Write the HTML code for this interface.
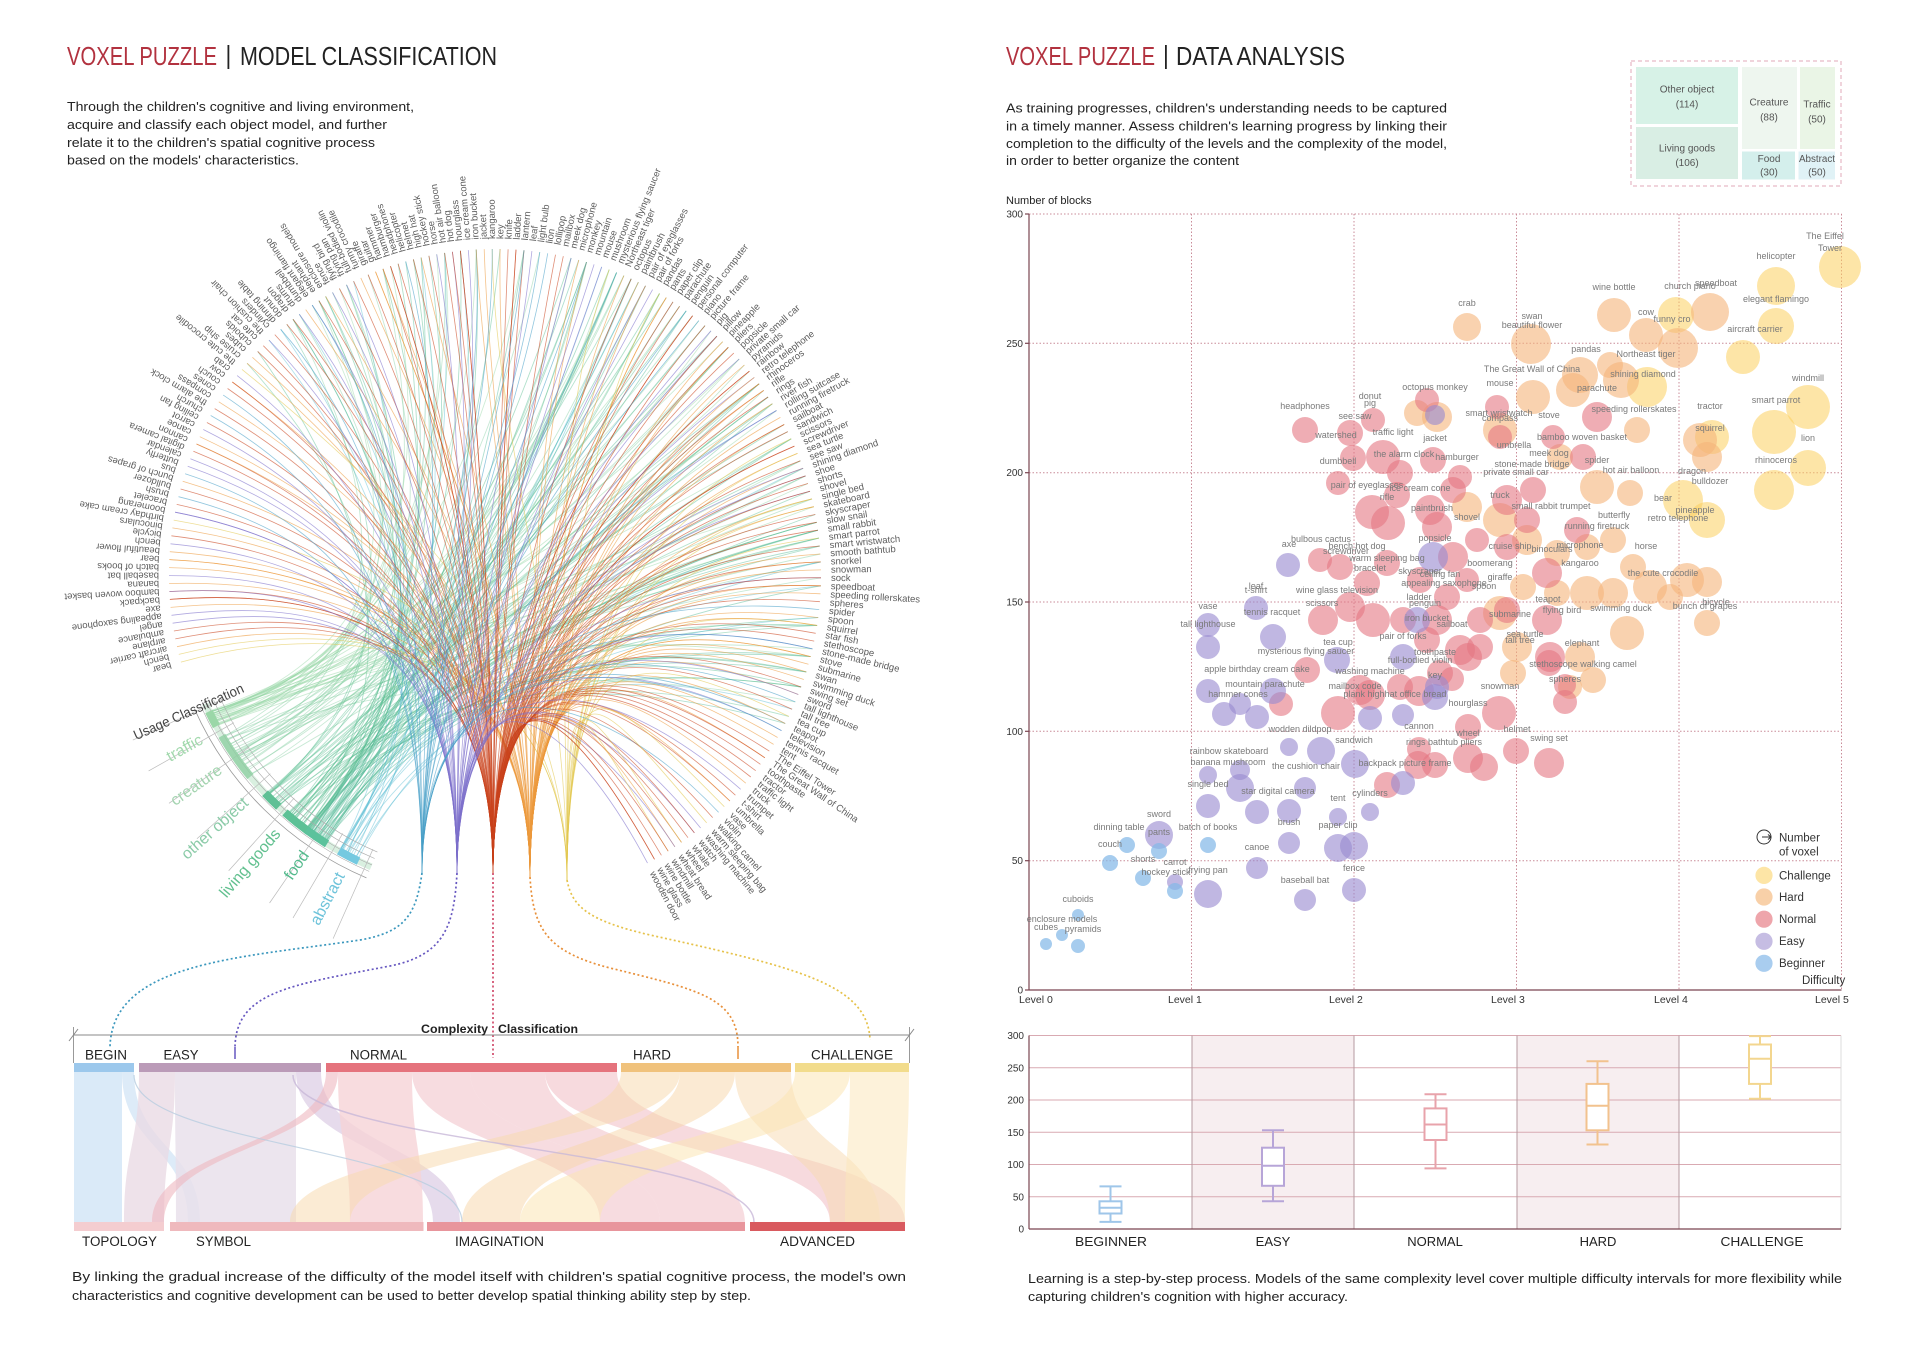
<!DOCTYPE html>
<html><head><meta charset="utf-8">
<style>
html,body{margin:0;padding:0;background:#fff;overflow:hidden;}
svg{display:block;}
text{font-family:"Liberation Sans",Arial,sans-serif;}
.sl{font-size:9px;fill:#7a7a7a;text-anchor:middle;}
.c{fill:#fbcf5e;fill-opacity:.55}
.h{fill:#f5b479;fill-opacity:.6}
.n{fill:#e47782;fill-opacity:.6}
.e{fill:#9a8bd0;fill-opacity:.62}
.b{fill:#84b9e8;fill-opacity:.72}
</style></head><body>
<svg id="s" width="1920" height="1357" viewBox="0 0 1920 1357" xmlns="http://www.w3.org/2000/svg">
<rect width="1920" height="1357" fill="#fff"/>

<!-- ================= LEFT PANEL ================= -->
<text x="67" y="65" font-size="26" fill="#b2323f" textLength="150" lengthAdjust="spacingAndGlyphs">VOXEL PUZZLE</text>
<rect x="227.5" y="45" width="1.8" height="24" fill="#222"/>
<text x="240" y="65" font-size="26" fill="#222" textLength="257" lengthAdjust="spacingAndGlyphs">MODEL CLASSIFICATION</text>

<g font-size="12.5" fill="#222">
<text x="67" y="111" textLength="347" lengthAdjust="spacingAndGlyphs">Through the children's cognitive and living environment,</text>
<text x="67" y="129" textLength="320" lengthAdjust="spacingAndGlyphs">acquire and classify each object model, and further</text>
<text x="67" y="147" textLength="308" lengthAdjust="spacingAndGlyphs">relate it to the children's spatial cognitive process</text>
<text x="67" y="164.5" textLength="232" lengthAdjust="spacingAndGlyphs">based on the models' characteristics.</text>
</g>

<!-- chords (generated) -->
<g id="chords" fill="none"></g>

<!-- radial labels -->
<g transform="translate(495,575)" font-size="9.5" fill="#5c5c5c">
<text transform="rotate(164.5)" x="336" y="3">bear</text>
<text transform="rotate(165.9)" x="336" y="3">bench</text>
<text transform="rotate(167.3)" x="336" y="3">aircraft carrier</text>
<text transform="rotate(168.7)" x="336" y="3">airplane</text>
<text transform="rotate(170.1)" x="336" y="3">ambulance</text>
<text transform="rotate(171.5)" x="336" y="3">angel</text>
<text transform="rotate(172.9)" x="336" y="3">appealing saxophone</text>
<text transform="rotate(174.3)" x="336" y="3">axe</text>
<text transform="rotate(175.7)" x="336" y="3">backpack</text>
<text transform="rotate(177.1)" x="336" y="3">bamboo woven basket</text>
<text transform="rotate(178.5)" x="336" y="3">banana</text>
<text transform="rotate(179.9)" x="336" y="3">baseball bat</text>
<text transform="rotate(181.3)" x="336" y="3">batch of books</text>
<text transform="rotate(182.7)" x="336" y="3">bear</text>
<text transform="rotate(184.1)" x="336" y="3">beautiful flower</text>
<text transform="rotate(185.5)" x="336" y="3">bench</text>
<text transform="rotate(186.9)" x="336" y="3">bicycle</text>
<text transform="rotate(188.3)" x="336" y="3">binoculars</text>
<text transform="rotate(189.7)" x="336" y="3">birthday cream cake</text>
<text transform="rotate(191.1)" x="336" y="3">boomerang</text>
<text transform="rotate(192.5)" x="336" y="3">bracelet</text>
<text transform="rotate(193.9)" x="336" y="3">brush</text>
<text transform="rotate(195.3)" x="336" y="3">bulldozer</text>
<text transform="rotate(196.7)" x="336" y="3">bunch of grapes</text>
<text transform="rotate(198.1)" x="336" y="3">bus</text>
<text transform="rotate(199.5)" x="336" y="3">butterfly</text>
<text transform="rotate(200.9)" x="336" y="3">calendar</text>
<text transform="rotate(202.3)" x="336" y="3">digital camera</text>
<text transform="rotate(203.7)" x="336" y="3">cannon</text>
<text transform="rotate(205.1)" x="336" y="3">canoe</text>
<text transform="rotate(206.5)" x="336" y="3">carrot</text>
<text transform="rotate(207.9)" x="336" y="3">ceiling fan</text>
<text transform="rotate(209.3)" x="336" y="3">church</text>
<text transform="rotate(210.7)" x="336" y="3">the alarm clock</text>
<text transform="rotate(212.1)" x="336" y="3">compass</text>
<text transform="rotate(213.5)" x="336" y="3">cones</text>
<text transform="rotate(214.9)" x="336" y="3">couch</text>
<text transform="rotate(216.3)" x="336" y="3">cow</text>
<text transform="rotate(217.7)" x="336" y="3">crab</text>
<text transform="rotate(219.1)" x="336" y="3">the cute crocodile</text>
<text transform="rotate(220.5)" x="336" y="3">cruise ship</text>
<text transform="rotate(221.9)" x="336" y="3">cubes</text>
<text transform="rotate(223.3)" x="336" y="3">cuboids</text>
<text transform="rotate(224.7)" x="336" y="3">cute cat</text>
<text transform="rotate(226.1)" x="336" y="3">the cushion chair</text>
<text transform="rotate(227.5)" x="336" y="3">cylinders</text>
<text transform="rotate(228.9)" x="336" y="3">dinning table</text>
<text transform="rotate(230.3)" x="336" y="3">donut</text>
<text transform="rotate(231.7)" x="336" y="3">dragon</text>
<text transform="rotate(233.1)" x="336" y="3">drums</text>
<text transform="rotate(234.5)" x="336" y="3">dumbbell</text>
<text transform="rotate(235.9)" x="336" y="3">elegant flamingo</text>
<text transform="rotate(237.3)" x="336" y="3">elephant</text>
<text transform="rotate(238.7)" x="336" y="3">enclosure models</text>
<text transform="rotate(240.1)" x="336" y="3">fence</text>
<text transform="rotate(241.5)" x="336" y="3">flying bird</text>
<text transform="rotate(242.9)" x="336" y="3">frying pan</text>
<text transform="rotate(244.3)" x="336" y="3">full-bodied violin</text>
<text transform="rotate(245.7)" x="336" y="3">funny crocodile</text>
<text transform="rotate(247.1)" x="336" y="3">giraffe</text>
<text transform="rotate(248.5)" x="336" y="3">guitar</text>
<text transform="rotate(249.9)" x="336" y="3">hammer</text>
<text transform="rotate(251.3)" x="336" y="3">hamburger</text>
<text transform="rotate(252.7)" x="336" y="3">headphones</text>
<text transform="rotate(254.1)" x="336" y="3">helicopter</text>
<text transform="rotate(255.5)" x="336" y="3">helmet</text>
<text transform="rotate(256.9)" x="336" y="3">high hat</text>
<text transform="rotate(258.3)" x="336" y="3">hockey stick</text>
<text transform="rotate(259.7)" x="336" y="3">horse</text>
<text transform="rotate(261.1)" x="336" y="3">hot air balloon</text>
<text transform="rotate(262.5)" x="336" y="3">hot dog</text>
<text transform="rotate(263.9)" x="336" y="3">hourglass</text>
<text transform="rotate(265.3)" x="336" y="3">ice cream cone</text>
<text transform="rotate(266.7)" x="336" y="3">iron bucket</text>
<text transform="rotate(268.1)" x="336" y="3">jacket</text>
<text transform="rotate(269.5)" x="336" y="3">kangaroo</text>
<text transform="rotate(270.9)" x="336" y="3">key</text>
<text transform="rotate(272.3)" x="336" y="3">knife</text>
<text transform="rotate(273.7)" x="336" y="3">ladder</text>
<text transform="rotate(275.1)" x="336" y="3">lantern</text>
<text transform="rotate(276.5)" x="336" y="3">leaf</text>
<text transform="rotate(277.9)" x="336" y="3">light bulb</text>
<text transform="rotate(279.3)" x="336" y="3">lion</text>
<text transform="rotate(280.7)" x="336" y="3">lollipop</text>
<text transform="rotate(282.1)" x="336" y="3">mailbox</text>
<text transform="rotate(283.5)" x="336" y="3">meek dog</text>
<text transform="rotate(284.9)" x="336" y="3">microphone</text>
<text transform="rotate(286.3)" x="336" y="3">monkey</text>
<text transform="rotate(287.7)" x="336" y="3">mountain</text>
<text transform="rotate(289.1)" x="336" y="3">mouse</text>
<text transform="rotate(290.5)" x="336" y="3">mushroom</text>
<text transform="rotate(291.9)" x="336" y="3">mysterious flying saucer</text>
<text transform="rotate(293.3)" x="336" y="3">Northeast tiger</text>
<text transform="rotate(294.7)" x="336" y="3">octopus</text>
<text transform="rotate(296.1)" x="336" y="3">paintbrush</text>
<text transform="rotate(297.5)" x="336" y="3">pair of eyeglasses</text>
<text transform="rotate(298.9)" x="336" y="3">pair of forks</text>
<text transform="rotate(300.3)" x="336" y="3">pandas</text>
<text transform="rotate(301.7)" x="336" y="3">pants</text>
<text transform="rotate(303.1)" x="336" y="3">paper clip</text>
<text transform="rotate(304.5)" x="336" y="3">parachute</text>
<text transform="rotate(305.9)" x="336" y="3">penguin</text>
<text transform="rotate(307.3)" x="336" y="3">personal computer</text>
<text transform="rotate(308.7)" x="336" y="3">piano</text>
<text transform="rotate(310.1)" x="336" y="3">picture frame</text>
<text transform="rotate(311.5)" x="336" y="3">pig</text>
<text transform="rotate(312.9)" x="336" y="3">pillow</text>
<text transform="rotate(314.3)" x="336" y="3">pineapple</text>
<text transform="rotate(315.7)" x="336" y="3">pliers</text>
<text transform="rotate(317.1)" x="336" y="3">popsicle</text>
<text transform="rotate(318.5)" x="336" y="3">private small car</text>
<text transform="rotate(319.9)" x="336" y="3">pyramids</text>
<text transform="rotate(321.3)" x="336" y="3">rainbow</text>
<text transform="rotate(322.7)" x="336" y="3">retro telephone</text>
<text transform="rotate(324.1)" x="336" y="3">rhinoceros</text>
<text transform="rotate(325.5)" x="336" y="3">rifle</text>
<text transform="rotate(326.9)" x="336" y="3">rings</text>
<text transform="rotate(328.3)" x="336" y="3">river fish</text>
<text transform="rotate(329.7)" x="336" y="3">rolling suitcase</text>
<text transform="rotate(331.1)" x="336" y="3">running firetruck</text>
<text transform="rotate(332.5)" x="336" y="3">sailboat</text>
<text transform="rotate(333.9)" x="336" y="3">sandwich</text>
<text transform="rotate(335.3)" x="336" y="3">scissors</text>
<text transform="rotate(336.7)" x="336" y="3">screwdriver</text>
<text transform="rotate(338.1)" x="336" y="3">sea turtle</text>
<text transform="rotate(339.5)" x="336" y="3">see saw</text>
<text transform="rotate(340.9)" x="336" y="3">shining diamond</text>
<text transform="rotate(342.3)" x="336" y="3">shoe</text>
<text transform="rotate(343.7)" x="336" y="3">shorts</text>
<text transform="rotate(345.1)" x="336" y="3">shovel</text>
<text transform="rotate(346.5)" x="336" y="3">single bed</text>
<text transform="rotate(347.9)" x="336" y="3">skateboard</text>
<text transform="rotate(349.3)" x="336" y="3">skyscraper</text>
<text transform="rotate(350.7)" x="336" y="3">slow snail</text>
<text transform="rotate(352.1)" x="336" y="3">small rabbit</text>
<text transform="rotate(353.5)" x="336" y="3">smart parrot</text>
<text transform="rotate(354.9)" x="336" y="3">smart wristwatch</text>
<text transform="rotate(356.3)" x="336" y="3">smooth bathtub</text>
<text transform="rotate(357.7)" x="336" y="3">snorkel</text>
<text transform="rotate(359.1)" x="336" y="3">snowman</text>
<text transform="rotate(360.5)" x="336" y="3">sock</text>
<text transform="rotate(361.9)" x="336" y="3">speedboat</text>
<text transform="rotate(363.3)" x="336" y="3">speeding rollerskates</text>
<text transform="rotate(364.7)" x="336" y="3">spheres</text>
<text transform="rotate(366.1)" x="336" y="3">spider</text>
<text transform="rotate(367.5)" x="336" y="3">spoon</text>
<text transform="rotate(368.9)" x="336" y="3">squirrel</text>
<text transform="rotate(370.3)" x="336" y="3">star fish</text>
<text transform="rotate(371.7)" x="336" y="3">stethoscope</text>
<text transform="rotate(373.1)" x="336" y="3">stone-made bridge</text>
<text transform="rotate(374.5)" x="336" y="3">stove</text>
<text transform="rotate(375.9)" x="336" y="3">submarine</text>
<text transform="rotate(377.3)" x="336" y="3">swan</text>
<text transform="rotate(378.7)" x="336" y="3">swimming duck</text>
<text transform="rotate(380.1)" x="336" y="3">swing set</text>
<text transform="rotate(381.5)" x="336" y="3">sword</text>
<text transform="rotate(382.9)" x="336" y="3">tall lighthouse</text>
<text transform="rotate(384.3)" x="336" y="3">tall tree</text>
<text transform="rotate(385.7)" x="336" y="3">tea cup</text>
<text transform="rotate(387.1)" x="336" y="3">teapot</text>
<text transform="rotate(388.5)" x="336" y="3">television</text>
<text transform="rotate(389.9)" x="336" y="3">tennis racquet</text>
<text transform="rotate(391.3)" x="336" y="3">tent</text>
<text transform="rotate(392.7)" x="336" y="3">The Eiffel Tower</text>
<text transform="rotate(394.1)" x="336" y="3">The Great Wall of China</text>
<text transform="rotate(395.5)" x="336" y="3">toothpaste</text>
<text transform="rotate(396.9)" x="336" y="3">tractor</text>
<text transform="rotate(398.3)" x="336" y="3">traffic light</text>
<text transform="rotate(399.7)" x="336" y="3">truck</text>
<text transform="rotate(401.1)" x="336" y="3">trumpet</text>
<text transform="rotate(402.5)" x="336" y="3">t-shirt</text>
<text transform="rotate(403.9)" x="336" y="3">umbrella</text>
<text transform="rotate(405.3)" x="336" y="3">vase</text>
<text transform="rotate(406.7)" x="336" y="3">violin</text>
<text transform="rotate(408.1)" x="336" y="3">walking camel</text>
<text transform="rotate(409.5)" x="336" y="3">warm sleeping bag</text>
<text transform="rotate(410.9)" x="336" y="3">washing machine</text>
<text transform="rotate(412.3)" x="336" y="3">watch</text>
<text transform="rotate(413.7)" x="336" y="3">whale</text>
<text transform="rotate(415.1)" x="336" y="3">wheel</text>
<text transform="rotate(416.5)" x="336" y="3">wheat bread</text>
<text transform="rotate(417.9)" x="336" y="3">windmill</text>
<text transform="rotate(419.3)" x="336" y="3">wine bottle</text>
<text transform="rotate(420.7)" x="336" y="3">wine glass</text>
<text transform="rotate(422.1)" x="336" y="3">wooden door</text>
</g>

<!-- usage classification arc -->
<g transform="translate(495,575)" fill="none">
  <circle r="317" transform="rotate(113)" stroke="#bfe6cc" stroke-opacity=".6" stroke-width="7" stroke-dasharray="238 3000"/>
  <circle r="329" transform="rotate(113)" stroke="#999" stroke-width=".8" stroke-dasharray="247 3000"/>
  <circle r="322" transform="rotate(113)" stroke="#aaa" stroke-width=".6" stroke-dasharray="242 3000"/>
  <circle r="315" transform="rotate(113)" stroke="#aaa" stroke-width=".6" stroke-dasharray="236 3000"/>
  <circle r="308" transform="rotate(113)" stroke="#aaa" stroke-width=".6" stroke-dasharray="231 3000"/>
  <circle r="301" transform="rotate(113)" stroke="#aaa" stroke-width=".6" stroke-dasharray="226 3000"/>
  <g stroke="#bbb" stroke-width=".7">
    <line x1="300" x2="398" transform="rotate(155.5)"/>
    <line x1="300" x2="398" transform="rotate(150.5)"/>
    <line x1="300" x2="398" transform="rotate(145)"/>
    <line x1="300" x2="398" transform="rotate(138.5)"/>
    <line x1="300" x2="398" transform="rotate(132)"/>
    <line x1="300" x2="398" transform="rotate(124.5)"/>
    <line x1="300" x2="398" transform="rotate(120.5)"/>
    <line x1="300" x2="398" transform="rotate(114)"/>
  </g>
  <circle r="317" transform="rotate(151.5)" stroke="#9bd7a8" stroke-width="8" stroke-dasharray="16.6 3000"/>
  <circle r="317" transform="rotate(140.5)" stroke="#8fd0a2" stroke-opacity=".8" stroke-width="8" stroke-dasharray="49.8 3000"/>
  <circle r="317" transform="rotate(133)" stroke="#5fc095" stroke-width="8" stroke-dasharray="19.4 3000"/>
  <circle r="317" transform="rotate(126)" stroke="#5dc196" stroke-width="8" stroke-dasharray="30.4 3000"/>
  <circle r="317" transform="rotate(122)" stroke="#5cc29c" stroke-width="8" stroke-dasharray="24.9 3000"/>
  <circle r="317" transform="rotate(115.5)" stroke="#74c9e0" stroke-width="8" stroke-dasharray="22.1 3000"/>
</g>
<g transform="translate(495,575)">
  <text transform="rotate(336)" x="-395" y="5" font-size="14" fill="#444" textLength="119" lengthAdjust="spacingAndGlyphs">Usage  Classification</text>
  <g font-size="16" text-anchor="end">
    <text transform="rotate(331)" x="-336" y="6" fill="#a3d9ae">traffic</text>
    <text transform="rotate(325)" x="-336" y="6" fill="#a4d4b0">creature</text>
    <text transform="rotate(318)" x="-336" y="6" fill="#8bcba8">other object</text>
    <text transform="rotate(310.5)" x="-336" y="6" fill="#61c08f">living goods</text>
    <text transform="rotate(304.5)" x="-336" y="6" fill="#53b98c">food</text>
    <text transform="rotate(297.5)" x="-336" y="6" fill="#6ec3da">abstract</text>
  </g>
</g>

<!-- dotted connectors -->
<g fill="none" stroke-width="1.7" stroke-dasharray="2 2.5">
  <path d="M422,873 C416,915 405,932 360,940 C240,958 112,962 110,1047" stroke="#3a97bd"/>
  <path d="M457,873 C454,925 445,955 390,966 C290,985 236,992 235,1047" stroke="#6657c0"/>
  <path d="M493,873 L493,1058" stroke="#d04a6a"/>
  <path d="M530,877 C533,930 548,952 610,968 C700,990 738,998 738,1047" stroke="#e8903a"/>
  <path d="M567,880 C572,905 585,920 650,935 C800,968 868,985 870,1040" stroke="#e6c24a"/>
</g>
<line x1="235" y1="1047" x2="235" y2="1059" stroke="#6657c0" stroke-width="1.5"/>
<line x1="738" y1="1047" x2="738" y2="1059" stroke="#e8903a" stroke-width="1.5"/>

<!-- complexity axis -->
<line x1="73" y1="1035" x2="910" y2="1035" stroke="#8a8a8a" stroke-width="1"/>
<line x1="73.5" y1="1027" x2="73.5" y2="1063" stroke="#999" stroke-width="1"/>
<line x1="909.5" y1="1027" x2="909.5" y2="1063" stroke="#999" stroke-width="1"/>
<line x1="69" y1="1041" x2="78" y2="1029" stroke="#888" stroke-width="1"/>
<line x1="905" y1="1041" x2="914" y2="1029" stroke="#888" stroke-width="1"/>
<text x="421" y="1033" font-size="12" font-weight="bold" fill="#222" textLength="67" lengthAdjust="spacingAndGlyphs">Complexity</text>
<text x="498" y="1033" font-size="12" font-weight="bold" fill="#222" textLength="80" lengthAdjust="spacingAndGlyphs">Classification</text>

<g font-size="13.5" fill="#222">
<text x="85" y="1059.5" textLength="42" lengthAdjust="spacingAndGlyphs">BEGIN</text>
<text x="163.5" y="1059.5" textLength="35" lengthAdjust="spacingAndGlyphs">EASY</text>
<text x="350" y="1059.5" textLength="57" lengthAdjust="spacingAndGlyphs">NORMAL</text>
<text x="633" y="1059.5" textLength="38" lengthAdjust="spacingAndGlyphs">HARD</text>
<text x="811" y="1059.5" textLength="82" lengthAdjust="spacingAndGlyphs">CHALLENGE</text>
</g>

<!-- sankey bands -->
<g>
<path d="M74 1072 L122 1072 C122 1147 122 1147 122 1222 L74 1222 C74 1147 74 1147 74 1072Z" fill="#d4e6f7" fill-opacity=".85"/>
<path d="M122 1072 L134 1072 C134 1147 200 1147 200 1222 L188 1222 C188 1147 122 1147 122 1072Z" fill="#c7def3" fill-opacity=".6"/>
<path d="M139 1072 L175 1072 C175 1147 164 1147 164 1222 L124 1222 C124 1147 139 1147 139 1072Z" fill="#eadbe5" fill-opacity=".8"/>
<path d="M175 1072 L296 1072 C296 1147 296 1147 296 1222 L176 1222 C176 1147 175 1147 175 1072Z" fill="#e9e0eb" fill-opacity=".85"/>
<path d="M296 1072 L321 1072 C321 1147 460 1147 460 1222 L433 1222 C433 1147 296 1147 296 1072Z" fill="#d9c8e2" fill-opacity=".65"/>
<path d="M326 1072 L338 1072 C338 1147 164 1147 164 1222 L152 1222 C152 1147 326 1147 326 1072Z" fill="#efb7c0" fill-opacity=".6"/>
<path d="M338 1072 L412 1072 C412 1147 423 1147 423 1222 L350 1222 C350 1147 338 1147 338 1072Z" fill="#f6d3d7" fill-opacity=".8"/>
<path d="M412 1072 L470 1072 C470 1147 660 1147 660 1222 L600 1222 C600 1147 412 1147 412 1072Z" fill="#f2c5cb" fill-opacity=".6"/>
<path d="M470 1072 L545 1072 C545 1147 745 1147 745 1222 L660 1222 C660 1147 470 1147 470 1072Z" fill="#f0c0c6" fill-opacity=".55"/>
<path d="M545 1072 L617 1072 C617 1147 905 1147 905 1222 L830 1222 C830 1147 545 1147 545 1072Z" fill="#f0bcc2" fill-opacity=".55"/>
<path d="M621 1072 L680 1072 C680 1147 350 1147 350 1222 L290 1222 C290 1147 621 1147 621 1072Z" fill="#f8dab0" fill-opacity=".55"/>
<path d="M680 1072 L735 1072 C735 1147 520 1147 520 1222 L462 1222 C462 1147 680 1147 680 1072Z" fill="#f8d6a8" fill-opacity=".5"/>
<path d="M735 1072 L791 1072 C791 1147 880 1147 880 1222 L830 1222 C830 1147 735 1147 735 1072Z" fill="#f8d9b0" fill-opacity=".5"/>
<path d="M795 1072 L850 1072 C850 1147 600 1147 600 1222 L520 1222 C520 1147 795 1147 795 1072Z" fill="#fbe6b5" fill-opacity=".55"/>
<path d="M850 1072 L909 1072 C909 1147 905 1147 905 1222 L845 1222 C845 1147 850 1147 850 1072Z" fill="#fbe8bb" fill-opacity=".55"/>
<path d="M134 1075 C134 1147 462 1147 462 1222" stroke="#b8cde0" stroke-width="1.2" fill="none" opacity=".8"/>
<path d="M293 1075 C293 1147 754 1147 754 1222" stroke="#c8b8d8" stroke-width="1.5" fill="none" opacity=".8"/>
</g>

<!-- top bars -->
<rect x="74" y="1063" width="60" height="9" fill="#9cc8ec"/>
<rect x="139" y="1063" width="182" height="9" fill="#bb9bb8"/>
<rect x="326" y="1063" width="291" height="9" fill="#e5737d"/>
<rect x="621" y="1063" width="170" height="9" fill="#f0c27c"/>
<rect x="795" y="1063" width="114" height="9" fill="#f2dc8c"/>
<!-- bottom bars -->
<rect x="74" y="1222" width="90" height="9" fill="#f4cdd0"/>
<rect x="170" y="1222" width="253.5" height="9" fill="#efb9bd"/>
<rect x="427" y="1222" width="318" height="9" fill="#e8959c"/>
<rect x="750" y="1222" width="155" height="9" fill="#d95a5f"/>
<g font-size="13.5" fill="#222">
<text x="82" y="1246" textLength="75" lengthAdjust="spacingAndGlyphs">TOPOLOGY</text>
<text x="196" y="1246" textLength="55" lengthAdjust="spacingAndGlyphs">SYMBOL</text>
<text x="455" y="1246" textLength="89" lengthAdjust="spacingAndGlyphs">IMAGINATION</text>
<text x="780" y="1246" textLength="75" lengthAdjust="spacingAndGlyphs">ADVANCED</text>
</g>

<g font-size="12.5" fill="#222">
<text x="72" y="1281" textLength="834" lengthAdjust="spacingAndGlyphs">By linking the gradual increase of the difficulty of the model itself with children's spatial cognitive process, the model's own</text>
<text x="72" y="1300" textLength="679" lengthAdjust="spacingAndGlyphs">characteristics and cognitive development can be used to better develop spatial thinking ability step by step.</text>
</g>

<!-- ================= RIGHT PANEL ================= -->
<text x="1006" y="65" font-size="26" fill="#b2323f" textLength="149" lengthAdjust="spacingAndGlyphs">VOXEL PUZZLE</text>
<rect x="1165" y="45" width="1.8" height="24" fill="#222"/>
<text x="1176" y="65" font-size="26" fill="#222" textLength="169" lengthAdjust="spacingAndGlyphs">DATA ANALYSIS</text>

<g font-size="12.5" fill="#222">
<text x="1006" y="112.5" textLength="441" lengthAdjust="spacingAndGlyphs">As training progresses, children's understanding needs to be captured</text>
<text x="1006" y="130.5" textLength="441" lengthAdjust="spacingAndGlyphs">in a timely manner. Assess children's learning progress by linking their</text>
<text x="1006" y="148" textLength="441" lengthAdjust="spacingAndGlyphs">completion to the difficulty of the levels and the complexity of the model,</text>
<text x="1006" y="165" textLength="233" lengthAdjust="spacingAndGlyphs">in order to better organize the content</text>
</g>

<!-- treemap -->
<rect x="1631" y="61" width="210" height="125" fill="none" stroke="#e0a8b8" stroke-width="1" stroke-dasharray="4 3"/>
<rect x="1636" y="67" width="102" height="57" fill="#d7f2e7"/>
<rect x="1636" y="127" width="102" height="52" fill="#d9eee4"/>
<rect x="1742" y="67" width="55" height="82" fill="#eef6ef"/>
<rect x="1800" y="67" width="35" height="82" fill="#eaf5e6"/>
<rect x="1742" y="151.5" width="53" height="28" fill="#d4efec"/>
<rect x="1798.5" y="151.5" width="36.5" height="28" fill="#e0f2f6"/>
<g font-size="10" fill="#555" text-anchor="middle">
<text x="1687" y="92.5">Other object</text><text x="1687" y="107.5">(114)</text>
<text x="1687" y="151.5">Living goods</text><text x="1687" y="166">(106)</text>
<text x="1769" y="105.5">Creature</text><text x="1769" y="120.5">(88)</text>
<text x="1817" y="107.5">Traffic</text><text x="1817" y="122.5">(50)</text>
<text x="1769" y="162">Food</text><text x="1769" y="175.5">(30)</text>
<text x="1817" y="162" textLength="36" lengthAdjust="spacingAndGlyphs">Abstract</text><text x="1817" y="175.5">(50)</text>
</g>

<!-- scatter -->
<text x="1006" y="204" font-size="11" fill="#222">Number of blocks</text>
<g stroke="#c98b98" stroke-width="1" stroke-dasharray="1.5 2" fill="none">
<line x1="1029" y1="214" x2="1841.5" y2="214"/>
<line x1="1029" y1="343.3" x2="1841.5" y2="343.3"/>
<line x1="1029" y1="472.7" x2="1841.5" y2="472.7"/>
<line x1="1029" y1="602" x2="1841.5" y2="602"/>
<line x1="1029" y1="731.3" x2="1841.5" y2="731.3"/>
<line x1="1029" y1="860.7" x2="1841.5" y2="860.7"/>
<line x1="1191.5" y1="214" x2="1191.5" y2="990"/>
<line x1="1354" y1="214" x2="1354" y2="990"/>
<line x1="1516.5" y1="214" x2="1516.5" y2="990"/>
<line x1="1679" y1="214" x2="1679" y2="990"/>
<line x1="1841.5" y1="214" x2="1841.5" y2="990"/>
</g>
<g stroke="#7a4550" stroke-width="1.2">
<line x1="1029" y1="214" x2="1029" y2="990"/>
<line x1="1029" y1="990" x2="1841.5" y2="990"/>
<line x1="1025" y1="214" x2="1029" y2="214"/>
<line x1="1025" y1="343.3" x2="1029" y2="343.3"/>
<line x1="1025" y1="472.7" x2="1029" y2="472.7"/>
<line x1="1025" y1="602" x2="1029" y2="602"/>
<line x1="1025" y1="731.3" x2="1029" y2="731.3"/>
<line x1="1025" y1="860.7" x2="1029" y2="860.7"/>
<line x1="1025" y1="990" x2="1029" y2="990"/>
</g>
<g font-size="10" fill="#333" text-anchor="end">
<text x="1023" y="217.5">300</text><text x="1023" y="346.8">250</text><text x="1023" y="476.2">200</text>
<text x="1023" y="605.5">150</text><text x="1023" y="734.8">100</text><text x="1023" y="864.2">50</text><text x="1023" y="993.5">0</text>
</g>
<g font-size="10.5" fill="#333">
<text x="1019" y="1003">Level 0</text><text x="1168" y="1003">Level 1</text><text x="1329" y="1003">Level 2</text>
<text x="1491" y="1003">Level 3</text><text x="1654" y="1003">Level 4</text><text x="1815" y="1003">Level 5</text>
</g>

<!-- bubbles -->
<g>
<circle class="c" cx="1840" cy="267" r="21"/><circle class="c" cx="1776" cy="286" r="19"/><circle class="c" cx="1776" cy="326" r="18"/>
<circle class="c" cx="1743" cy="357" r="17"/><circle class="c" cx="1808" cy="407" r="22"/><circle class="c" cx="1774" cy="432" r="22"/>
<circle class="c" cx="1808" cy="468" r="18"/><circle class="c" cx="1774" cy="490" r="20"/><circle class="c" cx="1676" cy="315" r="18"/>
<circle class="c" cx="1647" cy="387" r="20"/><circle class="c" cx="1683" cy="500" r="20"/><circle class="c" cx="1707" cy="520" r="18"/>
<circle class="c" cx="1712" cy="437" r="17"/>

<circle class="h" cx="1467" cy="327" r="14"/><circle class="h" cx="1614" cy="315" r="17"/><circle class="h" cx="1710" cy="312" r="19"/>
<circle class="h" cx="1646" cy="335" r="17"/><circle class="h" cx="1678" cy="348" r="20"/><circle class="h" cx="1531" cy="344" r="20"/>
<circle class="h" cx="1580" cy="375" r="18"/><circle class="h" cx="1621" cy="380" r="18"/><circle class="h" cx="1417" cy="413" r="13"/>
<circle class="h" cx="1437" cy="417" r="15"/><circle class="h" cx="1500" cy="430" r="17"/><circle class="h" cx="1533" cy="397" r="17"/>
<circle class="h" cx="1573" cy="390" r="17"/><circle class="h" cx="1560" cy="457" r="13"/><circle class="h" cx="1597" cy="487" r="17"/>
<circle class="h" cx="1630" cy="493" r="13"/><circle class="h" cx="1637" cy="430" r="13"/><circle class="h" cx="1700" cy="440" r="17"/>
<circle class="h" cx="1707" cy="457" r="15"/><circle class="h" cx="1467" cy="507" r="15"/><circle class="h" cx="1500" cy="520" r="17"/>
<circle class="h" cx="1527" cy="540" r="15"/><circle class="h" cx="1557" cy="553" r="13"/><circle class="h" cx="1587" cy="547" r="13"/>
<circle class="h" cx="1613" cy="540" r="13"/><circle class="h" cx="1633" cy="567" r="13"/><circle class="h" cx="1650" cy="587" r="17"/>
<circle class="h" cx="1587" cy="593" r="17"/><circle class="h" cx="1613" cy="593" r="15"/><circle class="h" cx="1687" cy="580" r="17"/>
<circle class="h" cx="1707" cy="582" r="15"/><circle class="h" cx="1707" cy="623" r="13"/><circle class="h" cx="1627" cy="633" r="17"/>
<circle class="h" cx="1580" cy="657" r="15"/><circle class="h" cx="1517" cy="647" r="15"/><circle class="h" cx="1500" cy="613" r="17"/>
<circle class="h" cx="1523" cy="587" r="13"/><circle class="h" cx="1557" cy="593" r="13"/><circle class="h" cx="1593" cy="680" r="13"/>
<circle class="h" cx="1570" cy="687" r="12"/><circle class="h" cx="1513" cy="673" r="13"/><circle class="h" cx="1670" cy="597" r="13"/>
<circle class="h" cx="1610" cy="365" r="13"/>

<circle class="n" cx="1305" cy="430" r="13"/><circle class="n" cx="1350" cy="433" r="13"/><circle class="n" cx="1373" cy="420" r="12"/>
<circle class="n" cx="1353" cy="458" r="13"/><circle class="n" cx="1383" cy="457" r="17"/><circle class="n" cx="1400" cy="473" r="13"/>
<circle class="n" cx="1338" cy="483" r="12"/><circle class="n" cx="1372" cy="512" r="17"/><circle class="n" cx="1388" cy="523" r="17"/>
<circle class="n" cx="1397" cy="495" r="13"/><circle class="n" cx="1430" cy="510" r="15"/><circle class="n" cx="1437" cy="527" r="15"/>
<circle class="n" cx="1453" cy="490" r="13"/><circle class="n" cx="1460" cy="477" r="12"/><circle class="n" cx="1433" cy="460" r="13"/>
<circle class="n" cx="1427" cy="400" r="12"/><circle class="n" cx="1497" cy="407" r="12"/><circle class="n" cx="1500" cy="437" r="12"/>
<circle class="n" cx="1553" cy="437" r="12"/><circle class="n" cx="1583" cy="457" r="13"/><circle class="n" cx="1597" cy="417" r="15"/>
<circle class="n" cx="1507" cy="500" r="15"/><circle class="n" cx="1533" cy="490" r="13"/><circle class="n" cx="1577" cy="530" r="13"/>
<circle class="n" cx="1527" cy="520" r="13"/><circle class="n" cx="1547" cy="573" r="15"/><circle class="n" cx="1507" cy="547" r="13"/>
<circle class="n" cx="1477" cy="540" r="12"/><circle class="n" cx="1453" cy="557" r="15"/><circle class="n" cx="1467" cy="580" r="12"/>
<circle class="n" cx="1447" cy="597" r="13"/><circle class="n" cx="1420" cy="580" r="13"/><circle class="n" cx="1437" cy="620" r="15"/>
<circle class="n" cx="1480" cy="620" r="13"/><circle class="n" cx="1507" cy="610" r="13"/><circle class="n" cx="1547" cy="620" r="15"/>
<circle class="n" cx="1550" cy="657" r="15"/><circle class="n" cx="1460" cy="650" r="15"/><circle class="n" cx="1427" cy="640" r="13"/>
<circle class="n" cx="1403" cy="620" r="13"/><circle class="n" cx="1373" cy="620" r="17"/><circle class="n" cx="1350" cy="607" r="15"/>
<circle class="n" cx="1323" cy="620" r="15"/><circle class="n" cx="1320" cy="560" r="12"/><circle class="n" cx="1340" cy="567" r="13"/>
<circle class="n" cx="1367" cy="583" r="13"/><circle class="n" cx="1387" cy="563" r="13"/><circle class="n" cx="1307" cy="670" r="13"/>
<circle class="n" cx="1360" cy="690" r="15"/><circle class="n" cx="1400" cy="687" r="13"/><circle class="n" cx="1440" cy="673" r="13"/>
<circle class="n" cx="1480" cy="647" r="13"/><circle class="n" cx="1281" cy="704" r="12"/><circle class="n" cx="1338" cy="713" r="17"/>
<circle class="n" cx="1370" cy="695" r="15"/><circle class="n" cx="1419" cy="691" r="15"/><circle class="n" cx="1468" cy="657" r="14"/>
<circle class="n" cx="1452" cy="679" r="12"/><circle class="n" cx="1468" cy="727" r="13"/><circle class="n" cx="1499" cy="713" r="17"/>
<circle class="n" cx="1419" cy="749" r="12"/><circle class="n" cx="1418" cy="765" r="14"/><circle class="n" cx="1435" cy="765" r="13"/>
<circle class="n" cx="1387" cy="785" r="13"/><circle class="n" cx="1468" cy="758" r="15"/><circle class="n" cx="1484" cy="767" r="14"/>
<circle class="n" cx="1516" cy="751" r="13"/><circle class="n" cx="1549" cy="763" r="15"/><circle class="n" cx="1549" cy="663" r="13"/>
<circle class="n" cx="1565" cy="702" r="12"/><circle class="n" cx="1565" cy="685" r="11"/>

<circle class="e" cx="1288" cy="565" r="12"/><circle class="e" cx="1256" cy="608" r="12"/><circle class="e" cx="1273" cy="637" r="13"/>
<circle class="e" cx="1337" cy="660" r="13"/><circle class="e" cx="1403" cy="657" r="13"/><circle class="e" cx="1433" cy="557" r="15"/>
<circle class="e" cx="1417" cy="620" r="13"/><circle class="e" cx="1437" cy="687" r="12"/><circle class="e" cx="1208" cy="625" r="12"/>
<circle class="e" cx="1208" cy="647" r="12"/><circle class="e" cx="1435" cy="415" r="10"/><circle class="e" cx="1208" cy="691" r="12"/>
<circle class="e" cx="1224" cy="714" r="12"/><circle class="e" cx="1240" cy="704" r="11"/><circle class="e" cx="1257" cy="717" r="12"/>
<circle class="e" cx="1273" cy="691" r="13"/><circle class="e" cx="1370" cy="718" r="12"/><circle class="e" cx="1403" cy="715" r="11"/>
<circle class="e" cx="1435" cy="697" r="13"/><circle class="e" cx="1289" cy="747" r="9"/><circle class="e" cx="1321" cy="751" r="14"/>
<circle class="e" cx="1355" cy="764" r="14"/><circle class="e" cx="1208" cy="775" r="9"/><circle class="e" cx="1240" cy="770" r="10"/>
<circle class="e" cx="1240" cy="788" r="14"/><circle class="e" cx="1305" cy="788" r="11"/><circle class="e" cx="1403" cy="783" r="12"/>
<circle class="e" cx="1208" cy="806" r="12"/><circle class="e" cx="1257" cy="812" r="12"/><circle class="e" cx="1289" cy="811" r="12"/>
<circle class="e" cx="1338" cy="817" r="9"/><circle class="e" cx="1370" cy="812" r="9"/><circle class="e" cx="1159" cy="835" r="14"/>
<circle class="e" cx="1289" cy="843" r="11"/><circle class="e" cx="1338" cy="848" r="14"/><circle class="e" cx="1354" cy="846" r="14"/>
<circle class="e" cx="1257" cy="868" r="11"/><circle class="e" cx="1175" cy="882" r="8"/><circle class="e" cx="1208" cy="894" r="14"/>
<circle class="e" cx="1305" cy="900" r="11"/><circle class="e" cx="1354" cy="890" r="12"/>

<circle class="b" cx="1127" cy="845" r="8"/><circle class="b" cx="1110" cy="863" r="8"/><circle class="b" cx="1143" cy="878" r="8"/>
<circle class="b" cx="1175" cy="891" r="8"/><circle class="b" cx="1208" cy="845" r="8"/><circle class="b" cx="1159" cy="851" r="8"/>
<circle class="b" cx="1078" cy="915" r="6"/><circle class="b" cx="1062" cy="935" r="6"/><circle class="b" cx="1046" cy="944" r="6"/>
<circle class="b" cx="1078" cy="946" r="7"/>
</g>

<!-- scatter labels -->
<g class="sl">
<text class="sl" x="1825" y="239">The Eiffel</text><text class="sl" x="1830" y="251">Tower</text>
<text class="sl" x="1776" y="259">helicopter</text><text class="sl" x="1614" y="290">wine bottle</text>
<text class="sl" x="1690" y="289">church piano</text><text class="sl" x="1716" y="286">speedboat</text>
<text class="sl" x="1467" y="306">crab</text><text class="sl" x="1776" y="302">elegant flamingo</text>
<text class="sl" x="1646" y="315">cow</text><text class="sl" x="1532" y="319">swan</text>
<text class="sl" x="1672" y="322">funny cro</text><text class="sl" x="1532" y="328">beautiful flower</text>
<text class="sl" x="1755" y="332">aircraft carrier</text><text class="sl" x="1586" y="352">pandas</text>
<text class="sl" x="1646" y="357">Northeast tiger</text><text class="sl" x="1532" y="372">The Great Wall of China</text>
<text class="sl" x="1643" y="377">shining diamond</text><text class="sl" x="1808" y="381">windmill</text>
<text class="sl" x="1435" y="390">octopus monkey</text><text class="sl" x="1500" y="386">mouse</text>
<text class="sl" x="1597" y="391">parachute</text><text class="sl" x="1370" y="399">donut</text>
<text class="sl" x="1370" y="406">pig</text><text class="sl" x="1776" y="403">smart parrot</text>
<text class="sl" x="1305" y="409">headphones</text><text class="sl" x="1710" y="409">tractor</text>
<text class="sl" x="1634" y="412">speeding rollerskates</text><text class="sl" x="1499" y="416">smart wristwatch</text>
<text class="sl" x="1549" y="418">stove</text><text class="sl" x="1355" y="419">see saw</text>
<text class="sl" x="1500" y="421">compass</text><text class="sl" x="1710" y="431">squirrel</text>
<text class="sl" x="1393" y="435">traffic light</text><text class="sl" x="1336" y="438">watershed</text>
<text class="sl" x="1582" y="440">bamboo woven basket</text><text class="sl" x="1808" y="441">lion</text>
<text class="sl" x="1435" y="441">jacket</text><text class="sl" x="1514" y="448">umbrella</text>
<text class="sl" x="1404" y="457">the alarm clock</text><text class="sl" x="1457" y="460">hamburger</text>
<text class="sl" x="1338" y="464">dumbbell</text><text class="sl" x="1549" y="456">meek dog</text>
<text class="sl" x="1532" y="467">stone-made bridge</text><text class="sl" x="1597" y="463">spider</text>
<text class="sl" x="1776" y="463">rhinoceros</text><text class="sl" x="1631" y="473">hot air balloon</text>
<text class="sl" x="1692" y="474">dragon</text><text class="sl" x="1516" y="475">private small car</text>
<text class="sl" x="1710" y="484">bulldozer</text><text class="sl" x="1367" y="488">pair of eyeglasses</text>
<text class="sl" x="1420" y="491">ice cream cone</text><text class="sl" x="1500" y="498">truck</text>
<text class="sl" x="1387" y="500">rifle</text><text class="sl" x="1663" y="501">bear</text>
<text class="sl" x="1551" y="509">small rabbit trumpet</text><text class="sl" x="1432" y="511">paintbrush</text>
<text class="sl" x="1695" y="513">pineapple</text><text class="sl" x="1678" y="521">retro telephone</text>
<text class="sl" x="1467" y="520">shovel</text><text class="sl" x="1597" y="529">running firetruck</text>
<text class="sl" x="1614" y="518">butterfly</text><text class="sl" x="1435" y="541">popsicle</text>
<text class="sl" x="1321" y="542">bulbous cactus</text><text class="sl" x="1289" y="547">axe</text>
<text class="sl" x="1580" y="548">microphone</text><text class="sl" x="1510" y="549">cruise ship</text>
<text class="sl" x="1552" y="552">binoculars</text><text class="sl" x="1646" y="549">horse</text>
<text class="sl" x="1357" y="549">bench hot dog</text><text class="sl" x="1346" y="554">screwdriver</text>
<text class="sl" x="1387" y="561">warm sleeping bag</text><text class="sl" x="1370" y="571">bracelet</text>
<text class="sl" x="1420" y="574">skyscraper</text><text class="sl" x="1490" y="566">boomerang</text>
<text class="sl" x="1580" y="566">kangaroo</text><text class="sl" x="1663" y="576">the cute crocodile</text>
<text class="sl" x="1500" y="580">giraffe</text><text class="sl" x="1440" y="577">ceiling fan</text>
<text class="sl" x="1256" y="589">leaf</text><text class="sl" x="1256" y="593">t-shirt</text>
<text class="sl" x="1337" y="593">wine glass television</text><text class="sl" x="1444" y="586">appealing saxophone</text>
<text class="sl" x="1484" y="589">spoon</text><text class="sl" x="1548" y="602">teapot</text>
<text class="sl" x="1208" y="609">vase</text><text class="sl" x="1621" y="611">swimming duck</text>
<text class="sl" x="1705" y="609">bunch of grapes</text><text class="sl" x="1716" y="605">bicycle</text>
<text class="sl" x="1272" y="615">tennis racquet</text><text class="sl" x="1322" y="606">scissors</text>
<text class="sl" x="1419" y="600">ladder</text><text class="sl" x="1425" y="606">penguin</text>
<text class="sl" x="1562" y="613">flying bird</text><text class="sl" x="1510" y="617">submarine</text>
<text class="sl" x="1208" y="627">tall lighthouse</text><text class="sl" x="1427" y="621">iron bucket</text>
<text class="sl" x="1452" y="627">sailboat</text><text class="sl" x="1525" y="637">sea turtle</text>
<text class="sl" x="1520" y="643">tall tree</text><text class="sl" x="1582" y="646">elephant</text>
<text class="sl" x="1403" y="639">pair of forks</text><text class="sl" x="1338" y="645">tea cup</text>
<text class="sl" x="1306" y="654">mysterious flying saucer</text><text class="sl" x="1435" y="655">toothpaste</text>
<text class="sl" x="1420" y="663">full-bodied violin</text><text class="sl" x="1583" y="667">stethoscope walking camel</text>
<text class="sl" x="1257" y="672">apple birthday cream cake</text><text class="sl" x="1370" y="674">washing machine</text>
<text class="sl" x="1435" y="678">key</text><text class="sl" x="1265" y="687">mountain parachute</text>
<text class="sl" x="1355" y="689">mailbox code</text><text class="sl" x="1500" y="689">snowman</text>
<text class="sl" x="1565" y="682">spheres</text><text class="sl" x="1238" y="697">hammer cones</text>
<text class="sl" x="1395" y="697">plank highhat office bread</text><text class="sl" x="1468" y="706">hourglass</text>
<text class="sl" x="1300" y="732">wodden dildpop</text><text class="sl" x="1419" y="729">cannon</text>
<text class="sl" x="1517" y="732">helmet</text><text class="sl" x="1468" y="736">wheel</text>
<text class="sl" x="1354" y="743">sandwich</text><text class="sl" x="1444" y="745">rings bathtub pliers</text>
<text class="sl" x="1549" y="741">swing set</text><text class="sl" x="1229" y="754">rainbow skateboard</text>
<text class="sl" x="1228" y="765">banana mushroom</text><text class="sl" x="1306" y="769">the cushion chair</text>
<text class="sl" x="1405" y="766">backpack picture frame</text><text class="sl" x="1208" y="787">single bed</text>
<text class="sl" x="1278" y="794">star digital camera</text><text class="sl" x="1338" y="801">tent</text>
<text class="sl" x="1370" y="796">cylinders</text><text class="sl" x="1159" y="817">sword</text>
<text class="sl" x="1119" y="830">dinning table</text><text class="sl" x="1159" y="835">pants</text>
<text class="sl" x="1208" y="830">batch of books</text><text class="sl" x="1289" y="825">brush</text>
<text class="sl" x="1338" y="828">paper clip</text><text class="sl" x="1110" y="847">couch</text>
<text class="sl" x="1257" y="850">canoe</text><text class="sl" x="1143" y="862">shorts</text>
<text class="sl" x="1175" y="865">carrot</text><text class="sl" x="1166" y="875">hockey stick</text>
<text class="sl" x="1208" y="873">frying pan</text><text class="sl" x="1354" y="871">fence</text>
<text class="sl" x="1305" y="883">baseball bat</text><text class="sl" x="1078" y="902">cuboids</text>
<text class="sl" x="1062" y="922">enclosure models</text><text class="sl" x="1046" y="930">cubes</text>
<text class="sl" x="1083" y="932">pyramids</text>
</g>

<!-- legend -->
<circle cx="1764" cy="837" r="7" fill="none" stroke="#333" stroke-width="1"/>
<line x1="1762" y1="837" x2="1771" y2="837" stroke="#333" stroke-width="1"/>
<path d="M1768,834.5 L1771,837 L1768,839.5" fill="none" stroke="#333" stroke-width="1"/>
<g font-size="11.5" fill="#333">
<text x="1779" y="841.5">Number</text><text x="1779" y="855.5">of voxel</text>
<text x="1779" y="879.5">Challenge</text><text x="1779" y="901">Hard</text>
<text x="1779" y="923">Normal</text><text x="1779" y="945">Easy</text>
<text x="1779" y="967">Beginner</text>
<text x="1802" y="984">Difficulty</text>
</g>
<circle cx="1764" cy="875.4" r="8.6" fill="#fde5a6"/>
<circle cx="1764" cy="897" r="8.6" fill="#f8d0a8"/>
<circle cx="1764" cy="919.2" r="8.6" fill="#eea5ab"/>
<circle cx="1764" cy="941.3" r="8.6" fill="#c6bde3"/>
<circle cx="1764" cy="963.3" r="8.6" fill="#a9cdef"/>

<!-- box plot -->
<rect x="1192" y="1035.5" width="162" height="193.5" fill="#f7eef0"/>
<rect x="1517" y="1035.5" width="162" height="193.5" fill="#f7eef0"/>
<g stroke="#d9aab2" stroke-width="1">
<line x1="1029" y1="1035.5" x2="1841" y2="1035.5"/>
<line x1="1029" y1="1067.8" x2="1841" y2="1067.8"/>
<line x1="1029" y1="1100" x2="1841" y2="1100"/>
<line x1="1029" y1="1132.3" x2="1841" y2="1132.3"/>
<line x1="1029" y1="1164.5" x2="1841" y2="1164.5"/>
<line x1="1029" y1="1196.8" x2="1841" y2="1196.8"/>
</g>
<g stroke="#b59aa0" stroke-width="1">
<line x1="1192" y1="1035.5" x2="1192" y2="1229"/>
<line x1="1354" y1="1035.5" x2="1354" y2="1229"/>
<line x1="1517" y1="1035.5" x2="1517" y2="1229"/>
<line x1="1679" y1="1035.5" x2="1679" y2="1229"/>
</g>
<line x1="1841" y1="1035.5" x2="1841" y2="1229" stroke="#ddd"/>
<line x1="1029" y1="1035.5" x2="1029" y2="1229" stroke="#7a4550" stroke-width="1.2"/>
<line x1="1029" y1="1229" x2="1841" y2="1229" stroke="#7a4550" stroke-width="1.2"/>
<g font-size="10" fill="#333" text-anchor="end">
<text x="1024" y="1039">300</text><text x="1024" y="1071.3">250</text><text x="1024" y="1103.5">200</text>
<text x="1024" y="1135.8">150</text><text x="1024" y="1168">100</text><text x="1024" y="1200.3">50</text><text x="1024" y="1232.5">0</text>
</g>
<g fill="#fff" stroke-width="2">
  <g stroke="#9fc6e9">
    <line x1="1110.5" y1="1186.4" x2="1110.5" y2="1221.9"/>
    <line x1="1099.5" y1="1186.4" x2="1121.5" y2="1186.4"/><line x1="1099.5" y1="1221.9" x2="1121.5" y2="1221.9"/>
    <rect x="1099.5" y="1201.3" width="22" height="12.2"/><line x1="1099.5" y1="1207.7" x2="1121.5" y2="1207.7"/>
  </g>
  <g stroke="#b7a5d8">
    <line x1="1273" y1="1130.3" x2="1273" y2="1201.3"/>
    <line x1="1262" y1="1130.3" x2="1284" y2="1130.3"/><line x1="1262" y1="1201.3" x2="1284" y2="1201.3"/>
    <rect x="1262" y="1147.7" width="22" height="38.1"/><line x1="1262" y1="1165.8" x2="1284" y2="1165.8"/>
  </g>
  <g stroke="#e8a3ab">
    <line x1="1435.5" y1="1094.2" x2="1435.5" y2="1168.4"/>
    <line x1="1424.5" y1="1094.2" x2="1446.5" y2="1094.2"/><line x1="1424.5" y1="1168.4" x2="1446.5" y2="1168.4"/>
    <rect x="1424.5" y="1108.4" width="22" height="31.6"/><line x1="1424.5" y1="1124.5" x2="1446.5" y2="1124.5"/>
  </g>
  <g stroke="#f2c28e">
    <line x1="1597.5" y1="1061.3" x2="1597.5" y2="1144.5"/>
    <line x1="1586.5" y1="1061.3" x2="1608.5" y2="1061.3"/><line x1="1586.5" y1="1144.5" x2="1608.5" y2="1144.5"/>
    <rect x="1586.5" y="1083.9" width="22" height="46.4"/><line x1="1586.5" y1="1105.8" x2="1608.5" y2="1105.8"/>
  </g>
  <g stroke="#f3d68f">
    <line x1="1760" y1="1036.1" x2="1760" y2="1098.7"/>
    <line x1="1749" y1="1036.1" x2="1771" y2="1036.1"/><line x1="1749" y1="1098.7" x2="1771" y2="1098.7"/>
    <rect x="1749" y="1044.5" width="22" height="39.4"/><line x1="1749" y1="1058.7" x2="1771" y2="1058.7"/>
  </g>
</g>
<g font-size="13" fill="#222" text-anchor="middle">
<text x="1111" y="1246" textLength="72" lengthAdjust="spacingAndGlyphs">BEGINNER</text>
<text x="1273" y="1246">EASY</text>
<text x="1435" y="1246">NORMAL</text>
<text x="1598" y="1246">HARD</text>
<text x="1762" y="1246" textLength="83" lengthAdjust="spacingAndGlyphs">CHALLENGE</text>
</g>

<g font-size="12.5" fill="#222">
<text x="1028" y="1283" textLength="814" lengthAdjust="spacingAndGlyphs">Learning is a step-by-step process. Models of the same complexity level cover multiple difficulty intervals for more flexibility while</text>
<text x="1028" y="1301" textLength="320" lengthAdjust="spacingAndGlyphs">capturing children's cognition with higher accuracy.</text>
</g>
</svg>

<script>
(function(){
var NS='http://www.w3.org/2000/svg';
var g=document.getElementById('chords');
var cx=495,cy=575,R=326;
var hubs=[[422,873,'#4aa0c8'],[457,873,'#7d6fcb'],[493,873,'#c9421c'],[530,877,'#ec9a3c'],[567,880,'#e3c850']];
var seed=20231;
function rnd(){seed=(seed*16807)%2147483647;return (seed-1)/2147483646;}
function add(d,c,w,o){var p=document.createElementNS(NS,'path');p.setAttribute('d',d);p.setAttribute('stroke',c);p.setAttribute('stroke-width',w);p.setAttribute('stroke-opacity',o);p.setAttribute('fill','none');g.appendChild(p);}
function f(v){return v.toFixed(1);}
var greens=[[151.5,154.5,'#93d4a2'],[140.5,149.5,'#86cfa1'],[133,136.5,'#5fc095'],[126,131.5,'#52bb8c'],[122,126.5,'#4fb994'],[115.5,119.5,'#58bcd3']];
for(var m=0;m<160;m++){
  var b=greens[Math.floor(rnd()*greens.length)];
  var an=(b[0]+(b[1]-b[0])*rnd())*Math.PI/180;
  var sx=cx+314*Math.cos(an), sy=cy+314*Math.sin(an);
  var t=40+Math.floor(rnd()*120);
  var a2=(164.5+1.4*t)*Math.PI/180;
  var ex=cx+R*Math.cos(a2), ey=cy+R*Math.sin(a2);
  var qx=cx-20+(rnd()-0.5)*60, qy=cy+50+(rnd()-0.5)*40;
  add('M'+f(sx)+','+f(sy)+'Q'+f(qx)+','+f(qy)+' '+f(ex)+','+f(ey),b[2],0.9,0.45);
}
for(var i=0;i<185;i++){
  var a=(164.5+1.4*i)*Math.PI/180;
  var x=cx+R*Math.cos(a), y=cy+R*Math.sin(a);
  var k=1+(rnd()<0.3?1:0);
  for(var j=0;j<k;j++){
    var r=rnd();
    var h=r<0.09?0:r<0.27?1:r<0.64?2:r<0.87?3:4;
    var H=hubs[h];
    var c1x=x+(cx-x)*0.55, c1y=y+(cy-y)*0.55;
    var c2x=H[0], c2y=H[1]-230;
    add('M'+f(x)+','+f(y)+'C'+f(c1x)+','+f(c1y)+' '+f(c2x)+','+f(c2y)+' '+H[0]+','+H[1],H[2],0.8,0.6);
  }
}
})();
</script>
</body></html>
